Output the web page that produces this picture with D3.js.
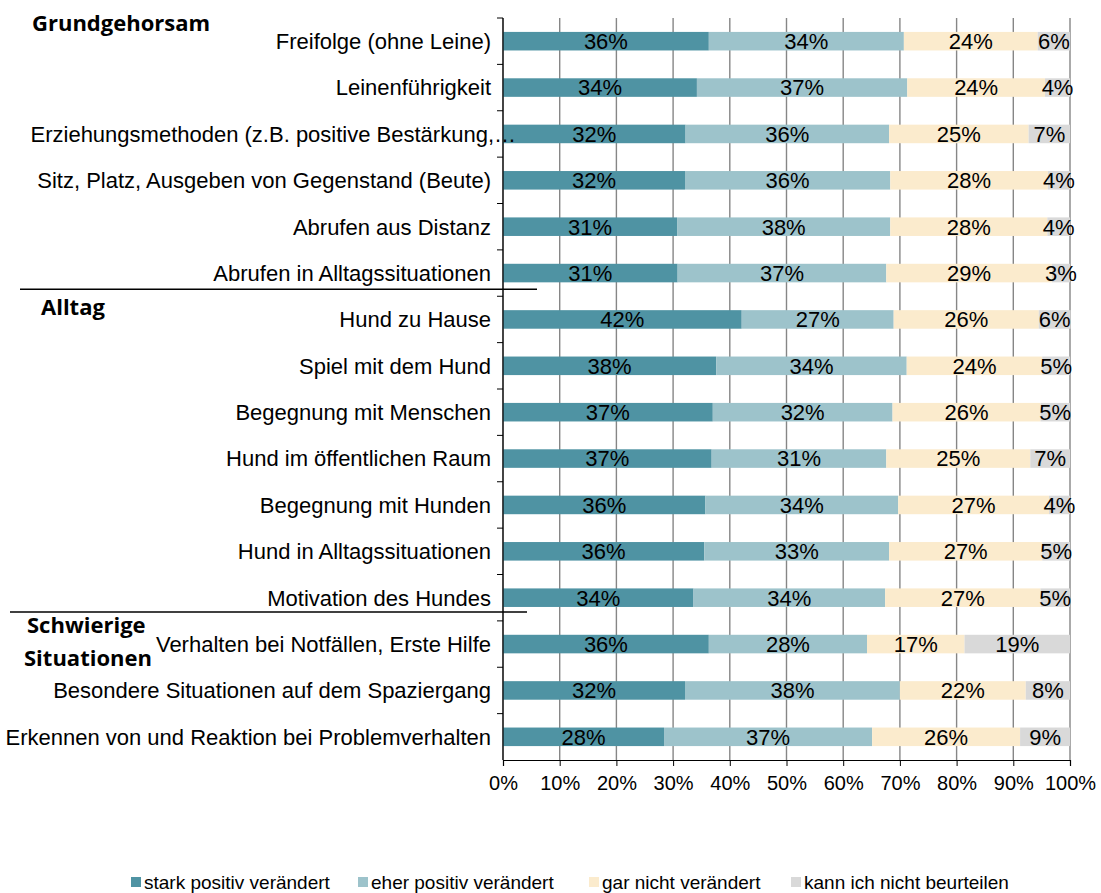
<!DOCTYPE html>
<html>
<head>
<meta charset="utf-8">
<script src="https://cdn.jsdelivr.net/npm/d3@7"></script>
<style>
  body { margin: 0; background: #fff; }
</style>
</head>
<body>
<div id="chart"></div>
<script>
const categories = [
  "Freifolge (ohne Leine)",
  "Leinenführigkeit",
  "Erziehungsmethoden (z.B. positive Bestärkung,…",
  "Sitz, Platz, Ausgeben von Gegenstand (Beute)",
  "Abrufen aus Distanz",
  "Abrufen in Alltagssituationen",
  "Hund zu Hause",
  "Spiel mit dem Hund",
  "Begegnung mit Menschen",
  "Hund im öffentlichen Raum",
  "Begegnung mit Hunden",
  "Hund in Alltagssituationen",
  "Motivation des Hundes",
  "Verhalten bei Notfällen, Erste Hilfe",
  "Besondere Situationen auf dem Spaziergang",
  "Erkennen von und Reaktion bei Problemverhalten",
];
const series = [
  "stark positiv verändert",
  "eher positiv verändert",
  "gar nicht verändert",
  "kann ich nicht beurteilen",
];
// percent values per series, same order as categories
const starkPositiv = [36.3, 34.2, 32.2, 32.1, 30.7, 30.8, 42.1, 37.6, 37.0, 36.8, 35.7, 35.5, 33.6, 36.3, 32.1, 28.4];
const eherPositiv = [34.4, 37.1, 35.9, 36.2, 37.6, 36.8, 26.8, 33.6, 31.7, 30.8, 34.0, 32.6, 33.8, 27.9, 37.9, 36.7];
const garNicht = [23.6, 24.3, 24.6, 27.8, 27.7, 29.2, 25.6, 23.9, 26.1, 25.4, 26.6, 27.0, 27.4, 17.2, 22.2, 26.1];
const kannNicht = [5.7, 4.4, 7.3, 3.9, 4.0, 3.2, 5.6, 4.9, 5.2, 7.0, 3.7, 4.9, 5.2, 18.6, 7.8, 8.8];
const colors = ["#4f93a3", "#9dc3cb", "#fbebcd", "#d9d9d9"];
const xTicks = [0, 10, 20, 30, 40, 50, 60, 70, 80, 90, 100];
const groups = [
  { lines: ["Grundgehorsam"], x: [32], y: 31 },
  { lines: ["Alltag"], x: [41], y: 315 },
  { lines: ["Schwierige", "Situationen"], x: [27, 24], y: 633 },
];
// separator lines: drawn a few px above the band boundary after the given row
const separators = [
  { after: 5, shift: -7, x1: 20, x2: 537 },
  { after: 12, shift: -9, x1: 10, x2: 527 },
];

const width = 1101, height = 893;
const margin = { top: 18, right: 31, bottom: 133, left: 503 };
const plotW = width - margin.left - margin.right;
const plotH = height - margin.top - margin.bottom;

const svg = d3.select("#chart").append("svg")
  .attr("width", width)
  .attr("height", height)
  .style("font-family", "'Liberation Sans', Arial, sans-serif");

const g = svg.append("g").attr("transform", `translate(${margin.left},${margin.top})`);

const x = d3.scaleLinear().domain([0, 100]).range([0, plotW]);
const y = d3.scaleBand().domain(categories).range([0, plotH]).paddingInner(0.6).paddingOuter(0.3);
const yOuter = d3.scaleBand().domain(categories).range([0, plotH]);

// table for the stack
const table = categories.map((c, i) => ({
  cat: c,
  [series[0]]: starkPositiv[i],
  [series[1]]: eherPositiv[i],
  [series[2]]: garNicht[i],
  [series[3]]: kannNicht[i],
}));
const stacked = d3.stack().keys(series)(table);

// gridlines
g.append("g")
  .selectAll("line")
  .data(xTicks)
  .join("line")
  .attr("x1", d => x(d)).attr("x2", d => x(d))
  .attr("y1", 0).attr("y2", plotH)
  .attr("stroke", "#868686")
  .attr("stroke-width", 1.4);

// bars
const layer = g.selectAll("g.layer")
  .data(stacked)
  .join("g")
  .attr("class", "layer")
  .attr("fill", (d, i) => colors[i]);

layer.selectAll("rect")
  .data(d => d)
  .join("rect")
  .attr("x", d => x(d[0]))
  .attr("y", d => y(d.data.cat))
  .attr("width", d => x(d[1]) - x(d[0]))
  .attr("height", y.bandwidth());

layer.each(function (s) {
  d3.select(this).selectAll("text")
    .data(s)
    .join("text")
    .attr("x", d => (x(d[0]) + x(d[1])) / 2)
    .attr("y", d => y(d.data.cat) + y.bandwidth() / 2)
    .attr("dy", "0.36em")
    .attr("text-anchor", "middle")
    .attr("fill", "#000")
    .style("font-size", "22px")
    .text(d => Math.round(d.data[s.key]) + "%");
});

// y axis
const yAxisG = g.append("g");
yAxisG.append("line")
  .attr("x1", 0).attr("x2", 0).attr("y1", 0).attr("y2", plotH)
  .attr("stroke", "#000").attr("stroke-width", 1.2);
yAxisG.selectAll("line.tick")
  .data(categories)
  .join("line")
  .attr("class", "tick")
  .attr("x1", -6).attr("x2", 0)
  .attr("y1", d => yOuter(d)).attr("y2", d => yOuter(d))
  .attr("stroke", "#000");
yAxisG.selectAll("text")
  .data(categories)
  .join("text")
  .attr("x", d => d.endsWith("…") ? 13 : -12)
  .attr("y", d => yOuter(d) + yOuter.bandwidth() / 2)
  .attr("dy", "0.36em")
  .attr("text-anchor", "end")
  .style("font-size", "22px")
  .text(d => d);

// x axis
const xAxisG = g.append("g")
  .attr("transform", `translate(0,${plotH})`)
  .call(d3.axisBottom(x).tickValues(xTicks).tickSize(6).tickFormat(d => d + "%"));
xAxisG.select(".domain").attr("stroke", "#000").attr("stroke-width", 1.2);
xAxisG.selectAll(".tick line").attr("stroke", "#000");
xAxisG.selectAll(".tick text")
  .attr("y", 16)
  .style("font-family", "'Liberation Sans', Arial, sans-serif")
  .style("font-size", "20px")
  .attr("fill", "#000");

// group separators
svg.selectAll("line.sep")
  .data(separators)
  .join("line")
  .attr("class", "sep")
  .attr("x1", d => d.x1).attr("x2", d => d.x2)
  .attr("y1", d => margin.top + yOuter(categories[d.after]) + yOuter.bandwidth() + d.shift)
  .attr("y2", d => margin.top + yOuter(categories[d.after]) + yOuter.bandwidth() + d.shift)
  .attr("stroke", "#000").attr("stroke-width", 1.5);

// group titles
groups.forEach(gr => {
  gr.lines.forEach((line, i) => {
    svg.append("text")
      .attr("x", gr.x[i])
      .attr("y", gr.y + i * 33)
      .style("font-family", "'Open Sans', sans-serif")
      .style("font-weight", "bold")
      .style("font-size", "22px")
      .text(line);
  });
});

// legend
const legendX = [131, 358, 589, 791];
const legend = svg.append("g")
  .selectAll("g")
  .data(series)
  .join("g")
  .attr("transform", (d, i) => `translate(${legendX[i]},877)`);
legend.append("rect")
  .attr("width", 10).attr("height", 10)
  .attr("fill", (d, i) => colors[i]);
legend.append("text")
  .attr("x", 13).attr("y", 5)
  .attr("dy", "0.36em")
  .style("font-family", "'Liberation Sans Narrow', 'Arial Narrow', sans-serif")
  .style("font-size", "19px")
  .text(d => d);
</script>
</body>
</html>
